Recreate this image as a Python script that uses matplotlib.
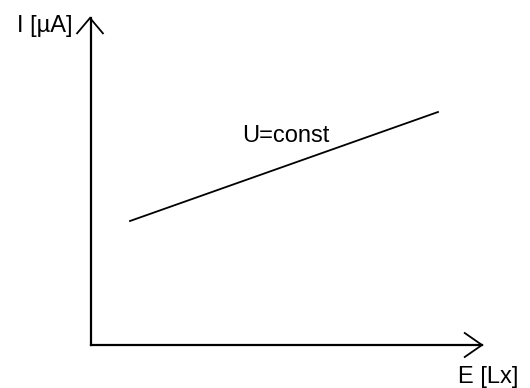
"""Photocurrent I versus illuminance E at constant voltage (sketch)."""

import matplotlib
matplotlib.use("Agg")
import matplotlib.pyplot as plt

# ---------------------------------------------------------------------------
# Data (chart units: origin at the axes corner, 1 unit = 1 pixel)
# ---------------------------------------------------------------------------
E_VALUES = [39, 347]
I_VALUES = [124, 233]

X_LABEL = "E [Lx]"
Y_LABEL = "I [\u00b5A]"
CURVE_LABEL = "U=const"

X_AXIS_END = 391
Y_AXIS_END = 327

INK = "black"
FONT_SIZE = 17
plt.rcParams["font.family"] = ["Liberation Sans", "DejaVu Sans"]


def draw_arrow_head(axis, tip, direction, length=17, half_width=13):
    """Open V arrow head at `tip` pointing in `direction` ('x' or 'y')."""
    tx, ty = tip
    if direction == "x":
        xs = [tx - length, tx, tx - length]
        ys = [ty + half_width, ty, ty - half_width]
    else:
        xs = [tx - half_width, tx, tx + half_width]
        ys = [ty - length, ty, ty - length]
    axis.plot(xs, ys, color=INK, linewidth=1.3, solid_capstyle="butt",
              solid_joinstyle="miter", clip_on=False)


def main():
    figure = plt.figure(figsize=(5.3, 3.88), dpi=100)
    axis = figure.add_axes([0, 0, 1, 1])
    axis.set_xlim(-91, 439)
    axis.set_ylim(-43, 345)
    axis.axis("off")

    # Axes with arrows
    axis.plot([0, X_AXIS_END], [0, 0], color=INK, linewidth=1.6)
    axis.plot([0, 0], [0, Y_AXIS_END], color=INK, linewidth=1.6)
    draw_arrow_head(axis, (X_AXIS_END, 0), "x", length=18, half_width=12.5)
    draw_arrow_head(axis, (-1, Y_AXIS_END), "y", length=16, half_width=13.5)

    # Characteristic
    axis.plot(E_VALUES, I_VALUES, color=INK, linewidth=1.3)

    axis.text(-74, 313, Y_LABEL, fontsize=FONT_SIZE, color=INK, ha="left", va="baseline")
    axis.text(151, 203, CURVE_LABEL, fontsize=FONT_SIZE, color=INK, ha="left", va="baseline")
    axis.text(367, -38, X_LABEL, fontsize=FONT_SIZE, color=INK, ha="left", va="baseline")

    figure.savefig("out.png", dpi=100, facecolor="white")
    plt.close(figure)


if __name__ == "__main__":
    main()
